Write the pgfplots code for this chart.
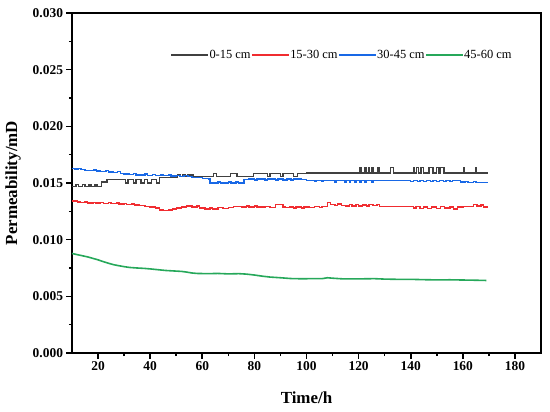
\documentclass[border=0pt]{standalone}
\usepackage{fontspec}
\setmainfont{Liberation Serif}
\usepackage{pgfplots}
\pgfplotsset{compat=1.18}
\definecolor{cblack}{RGB}{64,64,64}
\definecolor{cred}{RGB}{240,44,48}
\definecolor{cblue}{RGB}{24,104,230}
\definecolor{cgreen}{RGB}{38,168,90}
\begin{document}
\begin{tikzpicture}
\useasboundingbox (-72bp,-59bp) rectangle (478bp,353bp);
\begin{axis}[
  scale only axis,
  width=469bp, height=340bp,
  xmin=10, xmax=190, ymin=0, ymax=0.030,
  xtick={20,40,...,180},
  ytick={0,0.005,0.010,0.015,0.020,0.025,0.030},
  minor x tick num=1, minor y tick num=1,
  scaled y ticks=false,
  tick align=outside,
  xtick pos=bottom, ytick pos=left,
  major tick length=5.5bp, minor tick length=3bp,
  axis line style={line width=2.2bp},
  every tick/.style={black, line width=1.6bp},
  /pgf/number format/assume math mode=true,
  yticklabel style={/pgf/number format/.cd, fixed, fixed zerofill, precision=3},
  ticklabel style={font=\bfseries\fontsize{13.5}{14}\selectfont},
  xlabel={Time/h}, ylabel={Permeability/mD},
  every axis x label/.style={at={(axis description cs:0.5,0)}, yshift=-45bp, anchor=center, font=\bfseries\fontsize{17}{18}\selectfont},
  every axis y label/.style={at={(axis description cs:0,0.5)}, xshift=-59bp, rotate=90, anchor=center, font=\bfseries\fontsize{17}{18}\selectfont},
  legend style={at={(rel axis cs:0.209,0.876)}, anchor=west, draw=none, fill=none,
     font=\fontsize{12.5}{13}\selectfont, inner sep=0pt,
     nodes={inner sep=0.3pt},
     /tikz/every even column/.append style={column sep=0pt}},
  legend columns=4,
  legend image code/.code={\draw[#1, line width=2bp] (0bp,0bp) -- (37bp,0bp);},
]
% 0-15 cm
\addplot[cblack, line width=1.4bp, const plot] coordinates {
(10,0.01470) (11.5,0.01485) (12.5,0.01470) (14,0.01488) (15,0.01470) (16.5,0.01485)
(17.3,0.01470) (18.8,0.01488) (19.6,0.01470) (21.4,0.01510) (23.4,0.01532)
(30.5,0.01500) (31.5,0.01532) (33.5,0.01500) (34.5,0.01532) (36.5,0.01500)
(37.8,0.01532) (39,0.01500) (40.5,0.01532) (42.5,0.01500) (43.5,0.01550)
(50.5,0.01570) (51.5,0.01556) (52.5,0.01572) (53.5,0.01560) (54.5,0.01572) (56.5,0.01556)
(64.4,0.01585) (65.5,0.01556) (70.8,0.01585) (73.3,0.01556) (79.7,0.01585) (85,0.01556)
(86,0.01585) (90,0.01556) (91,0.01585) (95,0.01556) (96.5,0.01585) (100,0.01590)
(120.6,0.01635) (121,0.01590) (122.5,0.01635) (122.9,0.01590) (123.8,0.01635) (124.2,0.01590)
(125.1,0.01635) (125.5,0.01590) (127.4,0.01635) (127.8,0.01590) (132.3,0.01635) (133.5,0.01590)
(141,0.01635) (141.4,0.01590) (142.2,0.01635) (143,0.01590) (144,0.01635) (145,0.01590)
(147,0.01635) (148.5,0.01590) (150,0.01635) (150.6,0.01590) (151.2,0.01635) (152.7,0.01590)
(160.2,0.01635) (160.6,0.01590) (164.8,0.01635) (165.2,0.01590) (169.5,0.01590)
};
\addlegendentry{0-15 cm}
% 15-30 cm
\addplot[cred, line width=1.4bp, const plot] coordinates {
(10,0.01340) (12,0.01334) (13,0.01326) (15,0.01332) (16,0.01324) (18,0.01330) (19,0.01322)
(21,0.01328) (22,0.01320) (24,0.01326) (25,0.01318) (27,0.01324) (28,0.01314) (30,0.01320)
(31,0.01310) (33,0.01316) (34,0.01306) (36,0.01300) (38,0.01294) (40,0.01290) (42,0.01280)
(43.5,0.01262) (45,0.01256) (47,0.01262) (48.5,0.01270) (50,0.01280) (52,0.01288)
(54,0.01296) (56,0.01290) (58,0.01296) (59,0.01280) (61,0.01270) (63,0.01280) (64,0.01272)
(66,0.01284) (68,0.01276) (70,0.01286) (72,0.01294) (75,0.01290) (77,0.01298) (78,0.01288)
(80,0.01296) (81,0.01290) (84,0.01294) (86,0.01286) (88,0.01310) (91,0.01290) (92,0.01282)
(93.5,0.01290) (95,0.01280) (96,0.01290) (98,0.01278) (99,0.01290) (101,0.01282) (103,0.01292)
(105,0.01284) (106,0.01292) (108,0.01330) (109.2,0.01310) (111,0.01300) (112,0.01314)
(113.5,0.01302) (115,0.01296) (116.5,0.01310) (117.5,0.01296) (119,0.01312) (120,0.01296)
(121.5,0.01306) (123,0.01296) (124,0.01312) (125.5,0.01300) (127,0.01310) (128,0.01294)
(141,0.01280) (142,0.01294) (143.5,0.01276) (145,0.01290) (146.5,0.01274) (148,0.01290)
(150,0.01276) (151.5,0.01292) (153,0.01278) (155,0.01290) (156.5,0.01272) (158,0.01290)
(160,0.01294) (164,0.01310) (165.5,0.01296) (167,0.01306) (168,0.01290) (169.5,0.01290)
};
\addlegendentry{15-30 cm}
% 30-45 cm
\addplot[cblue, line width=1.4bp, const plot] coordinates {
(10,0.01630) (11,0.01622) (12.5,0.01630) (13.5,0.01618) (15,0.01612) (17,0.01608)
(18.5,0.01614) (19.5,0.01606) (21,0.01602) (23,0.01608) (24,0.01598) (26,0.01594)
(27.5,0.01600) (28.5,0.01586) (30,0.01580) (32,0.01576) (33.5,0.01584) (34.5,0.01572)
(36,0.01570) (38,0.01578) (39,0.01568) (41,0.01574) (42,0.01566) (44,0.01572) (45,0.01564)
(47,0.01570) (48,0.01562) (50,0.01568) (51.5,0.01560) (53,0.01568) (54.5,0.01556)
(56,0.01550) (58,0.01546) (60,0.01542) (62.5,0.01536) (63,0.01500) (66,0.01510) (67,0.01500)
(70,0.01508) (71,0.01500) (73,0.01508) (74,0.01500) (76,0.01530) (78,0.01536) (80,0.01528)
(81,0.01536) (84,0.01528) (85,0.01536) (88,0.01528) (89,0.01536) (91,0.01526) (92.5,0.01536)
(94,0.01526) (95,0.01534) (98,0.01530) (100,0.01524) (103,0.01512) (103.6,0.01524)
(106,0.01512) (106.5,0.01524) (110.8,0.01510) (111.3,0.01524) (114.6,0.01510) (115.1,0.01524)
(116.5,0.01510) (117,0.01524) (118.5,0.01510) (119,0.01524) (120.4,0.01510) (120.9,0.01524)
(122.4,0.01510) (122.9,0.01524) (125,0.01510) (125.5,0.01524) (140,0.01514) (141,0.01524)
(142.5,0.01512) (143.5,0.01524) (145,0.01514) (146,0.01524) (147.5,0.01512) (148.5,0.01524)
(150,0.01514) (151,0.01524) (152.5,0.01512) (153.5,0.01524) (155,0.01514) (156,0.01524)
(159,0.01508) (161,0.01512) (162,0.01506) (164,0.01512) (165,0.01506) (169.5,0.01506)
};
\addlegendentry{30-45 cm}
% 45-60 cm
\addplot[cgreen, line width=1.6bp] coordinates {
(10,0.00878) (12,0.00868) (14,0.00858) (16,0.00848) (18,0.00835) (20,0.00822) (22,0.00806)
(24,0.00792) (26,0.00779) (28,0.00770) (30,0.00762) (32,0.00755) (35,0.00750) (38,0.00746)
(40,0.00742) (43,0.00735) (46,0.00728) (49,0.00724) (52,0.00720) (54,0.00714) (56,0.00706)
(58,0.00702) (62,0.00700) (66,0.00702) (70,0.00698) (74,0.00700) (77,0.00696) (80,0.00688)
(83,0.00678) (86,0.00670) (90,0.00664) (94,0.00657) (98,0.00655) (102,0.00656) (106,0.00656)
(108,0.00664) (110,0.00660) (114,0.00654) (120,0.00654) (126,0.00656) (130,0.00652)
(135,0.00650) (140,0.00650) (145,0.00647) (150,0.00645) (155,0.00646) (160,0.00644)
(165,0.00642) (169,0.00640)
};
\addlegendentry{45-60 cm}
\end{axis}
\end{tikzpicture}
\end{document}
